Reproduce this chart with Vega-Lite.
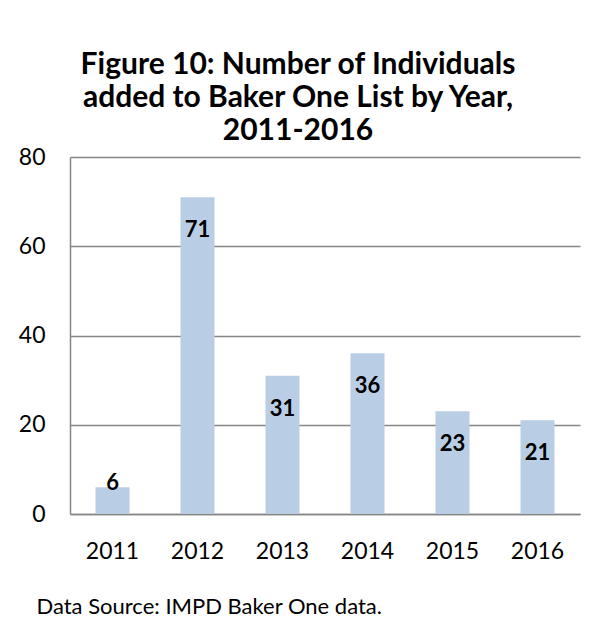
{
  "$schema": "https://vega.github.io/schema/vega-lite/v6.json",
  "autosize": {"type": "none"},
  "padding": {"left": 70, "top": 157, "right": 12, "bottom": 108},
  "width": 510,
  "height": 357,
  "background": "white",
  "config": {
    "view": {"stroke": null},
    "font": "Lato"
  },
  "title": {
    "text": ["Figure 10: Number of Individuals", "added to Baker One List by Year,", "2011-2016"],
    "font": "Lato",
    "fontSize": 30,
    "fontWeight": "bold",
    "color": "#000000",
    "lineHeight": 33,
    "anchor": "middle",
    "dx": -27,
    "offset": 0
  },
  "data": {
    "values": [
      {"year": "2011", "count": 6},
      {"year": "2012", "count": 71},
      {"year": "2013", "count": 31},
      {"year": "2014", "count": 36},
      {"year": "2015", "count": 23},
      {"year": "2016", "count": 21}
    ]
  },
  "encoding": {
    "x": {
      "field": "year",
      "type": "ordinal",
      "scale": {"paddingInner": 0.6, "paddingOuter": 0.3},
      "axis": {
        "title": "Data Source: IMPD Baker One data.",
        "titleFont": "Lato",
        "titleFontSize": 22,
        "titleFontWeight": "normal",
        "titleColor": "#000000",
        "titleAnchor": "start",
        "titleAlign": "left",
        "titleBaseline": "middle",
        "titleX": -34,
        "titleY": 92,
        "labelAngle": 0,
        "labelFontSize": 23,
        "labelColor": "#000000",
        "labelPadding": 26,
        "ticks": false,
        "domainColor": "#868686",
        "domainWidth": 1.5,
        "grid": false
      }
    },
    "y": {
      "field": "count",
      "type": "quantitative",
      "scale": {"domain": [0, 80]},
      "axis": {
        "title": null,
        "values": [0, 20, 40, 60, 80],
        "labelFontSize": 23,
        "labelColor": "#000000",
        "labelPadding": 25,
        "ticks": false,
        "domainColor": "#868686",
        "domainWidth": 1.5,
        "gridColor": "#868686",
        "gridWidth": 1.5
      }
    }
  },
  "layer": [
    {"mark": {"type": "bar", "color": "#B9CDE5"}},
    {
      "transform": [{"filter": "datum.count > 10"}],
      "mark": {"type": "text", "fontWeight": "bold", "fontSize": 22, "baseline": "middle", "dy": 33, "color": "#000000"},
      "encoding": {"text": {"field": "count", "type": "quantitative"}}
    },
    {
      "transform": [{"filter": "datum.count <= 10"}],
      "mark": {"type": "text", "fontWeight": "bold", "fontSize": 22, "baseline": "middle", "dy": -4, "color": "#000000"},
      "encoding": {"text": {"field": "count", "type": "quantitative"}}
    }
  ]
}
